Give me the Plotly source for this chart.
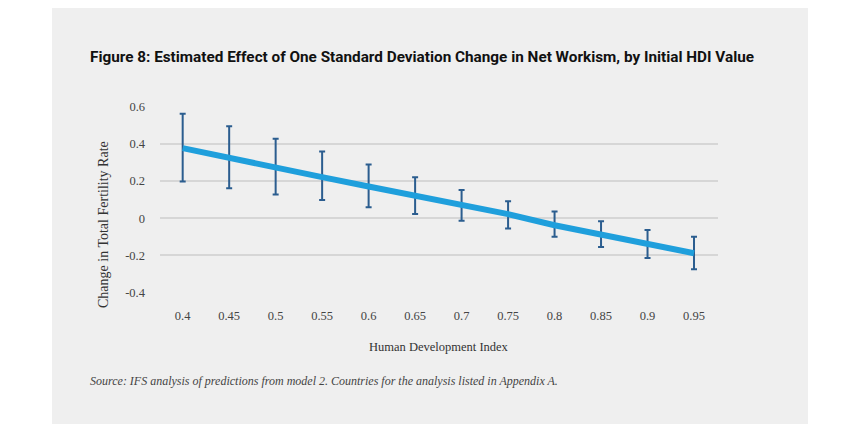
import plotly.graph_objects as go

hdi = [0.4, 0.45, 0.5, 0.55, 0.6, 0.65, 0.7, 0.75, 0.8, 0.85, 0.9, 0.95]
tick_labels = ["0.4", "0.45", "0.5", "0.55", "0.6", "0.65", "0.7", "0.75", "0.8", "0.85", "0.9", "0.95"]
effect = [0.375, 0.326, 0.276, 0.220, 0.170, 0.122, 0.075, 0.022, -0.038, -0.088, -0.136, -0.188]
upper = [0.559, 0.493, 0.425, 0.357, 0.287, 0.219, 0.151, 0.090, 0.036, -0.016, -0.063, -0.100]
lower = [0.197, 0.160, 0.127, 0.097, 0.059, 0.022, -0.014, -0.055, -0.100, -0.154, -0.213, -0.274]

err_plus = [u - e for u, e in zip(upper, effect)]
err_minus = [e - l for e, l in zip(effect, lower)]

W, H = 850, 447
OFF = 8  # page body margin
L, R, T, B = 160 - OFF, 718 - OFF, 106 - OFF, 293 - OFF


def px(x):
    return (x - OFF - L) / (R - L)


def py(y):
    return (B - (y - OFF)) / (B - T)


fig = go.Figure()
fig.add_trace(go.Scatter(
    x=hdi, y=effect, mode="lines",
    line=dict(color="#1f9fdc", width=6),
    error_y=dict(type="data", symmetric=False, array=err_plus, arrayminus=err_minus,
                 color="#2b5d8f", thickness=2, width=3),
    showlegend=False, hoverinfo="skip",
))

serif = "Liberation Serif"
fig.update_layout(
    width=W, height=H,
    margin=dict(l=L, r=W - R, t=T, b=H - B),
    paper_bgcolor="white", plot_bgcolor="rgba(0,0,0,0)",
    xaxis=dict(range=[0.3756, 0.9758], tickmode="array", tickvals=hdi, ticktext=tick_labels,
               showgrid=False, zeroline=False, showline=False, ticks="",
               tickfont=dict(family=serif, size=12.5, color="#444"), ticklabelstandoff=13),
    yaxis=dict(range=[-0.401, 0.601], tickvals=[-0.4, -0.2, 0, 0.2, 0.4, 0.6],
               ticktext=["-0.4", "-0.2", "0", "0.2", "0.4", "0.6"],
               showgrid=True, gridcolor="#d6d6d6", gridwidth=1.5, zeroline=False, showline=False,
               ticks="", tickfont=dict(family=serif, size=12.5, color="#444"), ticklabelstandoff=14),
    shapes=[dict(type="rect", xref="paper", yref="paper", x0=px(52), x1=px(808), y0=py(424), y1=py(8),
                 fillcolor="#efefef", line=dict(width=0), layer="below")],
    annotations=[
        dict(text="<b>Figure 8: Estimated Effect of One Standard Deviation Change in Net Workism, by Initial HDI Value</b>",
             xref="paper", yref="paper", x=px(88), y=py(57), xanchor="left", yanchor="middle",
             showarrow=False, font=dict(family="Roboto", size=15.3, color="#111")),
        dict(text="Change in Total Fertility Rate", xref="paper", yref="paper", x=px(103), y=py(225),
             xanchor="center", yanchor="middle", textangle=-90, showarrow=False,
             font=dict(family=serif, size=14, color="#333")),
        dict(text="Human Development Index", xref="paper", yref="paper", x=px(439), y=py(347),
             xanchor="center", yanchor="middle", showarrow=False,
             font=dict(family=serif, size=12.5, color="#333")),
        dict(text="<i>Source: IFS analysis of predictions from model 2. Countries for the analysis listed in Appendix A.</i>",
             xref="paper", yref="paper", x=px(88), y=py(381), xanchor="left", yanchor="middle",
             showarrow=False, font=dict(family=serif, size=12, color="#444")),
    ],
)

fig.write_html("out.html")
